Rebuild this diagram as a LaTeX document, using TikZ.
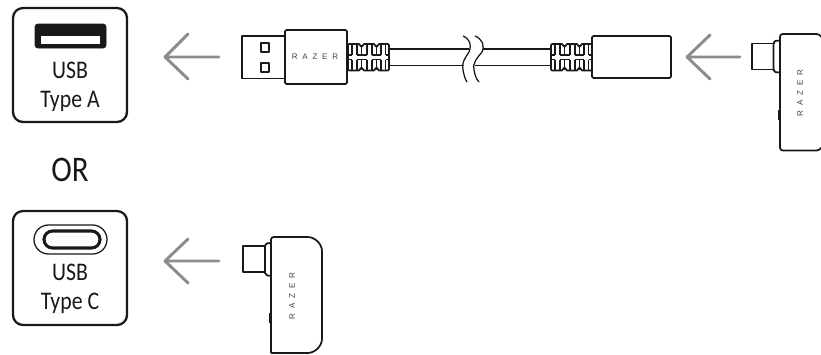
\documentclass[tikz,border=0pt]{standalone}
\usepackage{fontspec}
\setmainfont[FakeStretch=0.86]{Carlito}
\newfontfamily\logofont{Liberation Sans}
\tikzset{
  px/.style={x=0.75pt,y=-0.75pt},
  ink/.style={draw=black!90,line width=1.3pt,line join=round},
  thinink/.style={draw=black!90,line width=0.95pt,line join=round},
  portbox/.style={ink,line width=1.7pt,rounded corners=7.5pt},
  arrowline/.style={draw=black!45,line width=2.2pt,line cap=round,line join=round},
  lbl/.style={font=\fontsize{19pt}{21pt}\selectfont,text=black!90,inner sep=0pt,anchor=center},
  logo/.style={font=\logofont\fontsize{6pt}{6pt}\selectfont,text=black!75,inner sep=0pt,anchor=center},
}
\newcommand{\rzr}{R\hspace{3.6pt}A\hspace{3.6pt}Z\hspace{3.6pt}E\hspace{3.6pt}R}
\newcommand{\grommet}[1]{%
 \begin{scope}[shift={(#1,0)}]
  \draw[ink,rounded corners=0.9pt] (0,44) -- (12,44) -- (12,46.5) -- (15,46.5) -- (15,44) -- (27,44) -- (27,46.5) -- (30,46.5) -- (30,44) -- (41,44) -- (41,70.5) -- (30,70.5) -- (30,68) -- (27,68) -- (27,70.5) -- (15,70.5) -- (15,68) -- (12,68) -- (12,70.5) -- (0,70.5) -- cycle;
  \foreach \x in {4,9,13.5,19,24,28.5,33,37.5}{
    \draw[ink] (\x,45) -- (\x,54.5);
    \draw[ink] (\x,60) -- (\x,69.5);
  }
  \foreach \x/\y in {0/4,9/13.5,13.5/19,24/28.5,28.5/33,37.5/41}{
    \draw[ink] (\x,55) -- (\y,55) (\x,59.5) -- (\y,59.5);
  }
 \end{scope}}
\begin{document}
\begin{tikzpicture}[px]
\useasboundingbox (0,0) rectangle (821,354);
% USB A port
\draw[portbox] (13,8) rectangle (127,122);
\draw[fill=black!90,draw=black!90,rounded corners=2pt] (35,24) rectangle (106,48);
\fill[white] (41,36) rectangle (100,44);
\node[lbl] (usbA) at (70,70) {USB};
\node[lbl] (typeA) at (70,101) {Type A};
\node[lbl,font=\fontsize{27pt}{29pt}\selectfont] (or) at (70,170) {OR};
% USB C port
\draw[portbox] (13,211) rectangle (127,325);
\draw[thinink] (48.5,225) -- (92.5,225) arc[start angle=-90,end angle=90,radius=14.5] -- (48.5,254) arc[start angle=90,end angle=270,radius=14.5] -- cycle;
\draw[ink,line width=2.3pt] (52.5,231) -- (91.5,231) arc[start angle=-90,end angle=90,radius=8.5] -- (52.5,248) arc[start angle=90,end angle=270,radius=8.5] -- cycle;
\node[lbl] (usbC) at (70,272) {USB};
\node[lbl] (typeC) at (70,303) {Type C};
% arrows
\coordinate (a1) at (219,57); \coordinate (a1t) at (165,57);
\draw[arrowline] (a1) -- (a1t) (188,34) -- (a1t) -- (188,79);
\coordinate (a2) at (740,57); \coordinate (a2t) at (687,57);
\draw[arrowline] (a2) -- (a2t) (710,35) -- (a2t) -- (710,79);
\coordinate (a3) at (219,261); \coordinate (a3t) at (165,261);
\draw[arrowline] (a3) -- (a3t) (188,239) -- (a3t) -- (188,283);
% USB-A plug
\draw[ink] (285,36) -- (242,36) -- (242,78.5) -- (285,78.5);
\draw[ink] (261,43) rectangle (269,52);
\draw[ink] (261,63) rectangle (269,72);
\draw[ink,rounded corners=1pt] (285,30) rectangle (347,84);
\node[logo] (rz1) at (315,57) {\rzr};
\grommet{348}
% cable
\draw[ink] (389,49) -- (469,49);
\draw[ink] (389,65.5) -- (464,65.5);
\draw[ink] (483,49) -- (550,49);
\draw[ink] (475,65.5) -- (550,65.5);
\draw[thinink] (463,36) .. controls (470,39) and (472,45) .. (469,52) .. controls (465,58) and (461,64) .. (463,70) .. controls (464,75) and (465,79) .. (467,82);
\draw[thinink] (475,36) .. controls (482,39) and (485,45) .. (482,52) .. controls (477,58) and (472,64) .. (474,70) .. controls (475,75) and (476,79) .. (479,82);
\grommet{551}
\draw[ink,rounded corners=1pt] (592,36) rectangle (671,78);
% right adapter
\draw[ink] (775,43.5) -- (752,43.5) -- (752,69.5) -- (775,69.5);
\draw[ink,rounded corners=1.5pt] (780,40.5) -- (773.5,41) -- (773.5,72) -- (780,72.5);
\draw[ink,rounded corners=2pt] (815,34) -- (780,34) -- (780,150.5) -- (815,150.5);
\draw[ink] (815,34) -- (816.5,34) .. controls (818.5,34) and (820,35) .. (821.5,37);
\draw[ink] (815,150.5) -- (816.5,150.5) .. controls (818.5,150.5) and (820,149.5) .. (821.5,147.5);
\draw[ink,line width=2.2pt] (779.5,110) -- (779.5,120);
\node[logo,rotate=90] (rz2) at (800,93) {\rzr};
% lower adapter
\draw[ink] (266,246) -- (243,246) -- (243,272) -- (266,272);
\draw[ink,rounded corners=1.5pt] (271,243) -- (265,243.5) -- (265,275) -- (271,276);
\draw[ink,rounded corners=2pt] (322,270) -- (322,254) .. controls (322,243) and (314,237) .. (305,237) -- (271,237) -- (271,353);
\draw[ink,rounded corners=2pt] (271,353) -- (305,353) .. controls (314,353) and (322,347) .. (322,336) -- (322,270);
\draw[ink,line width=2.2pt] (270.5,313) -- (270.5,323);
\node[logo,rotate=90] (rz3) at (292,296) {\rzr};
\end{tikzpicture}
\end{document}
